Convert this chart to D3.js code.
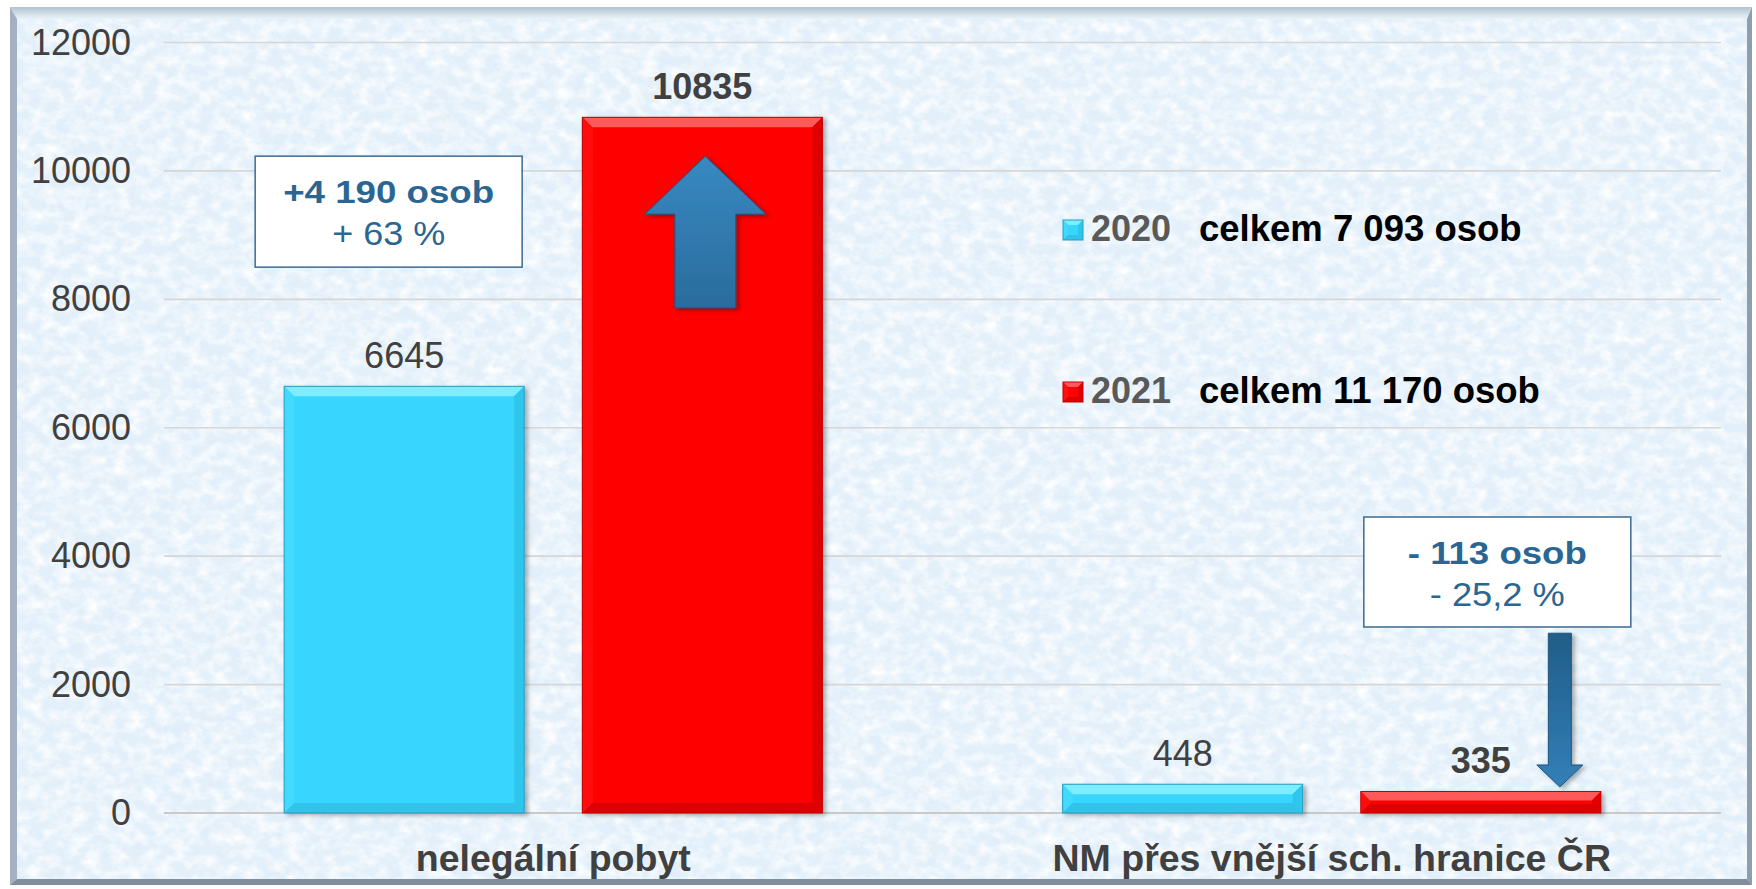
<!DOCTYPE html>
<html>
<head>
<meta charset="utf-8">
<script src="https://cdn.jsdelivr.net/npm/d3@7"></script>
<style>
  html, body { margin: 0; padding: 0; background: #ffffff; }
  svg { display: block; font-family: "Liberation Sans", Arial, sans-serif; }
</style>
</head>
<body>
<svg id="chart"></svg>
<script>
const categories = ['nelegální pobyt', 'NM přes vnější sch. hranice ČR'];
const years = ['2020', '2021'];
const values2020 = [6645, 448];
const values2021 = [10835, 335];
const yTicks = [0, 2000, 4000, 6000, 8000, 10000, 12000];
const legendTotals = ['celkem 7 093 osob', 'celkem 11 170 osob'];
const changeMain = ['+4 190 osob', '- 113 osob'];
const changePct = ['+ 63 %', '- 25,2 %'];
// arrow start / end, in chart units
const arrowFrom = [7865, 2800];
const arrowTo = [10230, 405];

const width = 1756, height = 889;
const margin = {top: 42.5, right: 35, bottom: 76, left: 164};
const y0 = height - margin.bottom;
const FONT = '"Liberation Sans", Arial, sans-serif';

const palette = {
  '2020': {face: '#38d6fe', top: '#7beeff', left: '#42daff', right: '#2fc6ec', bottom: '#30c2ea', edge: '#2a9cc0'},
  '2021': {face: '#fe0303', top: '#ff5a5a', left: '#ff1010', right: '#e00000', bottom: '#dc0000', edge: '#c00000'}
};

const svg = d3.select('#chart').attr('width', width).attr('height', height);
const defs = svg.append('defs');

// paper texture for the background
const tex = defs.append('filter').attr('id', 'tex')
  .attr('x', 0).attr('y', 0).attr('width', '100%').attr('height', '100%');
tex.append('feTurbulence').attr('type', 'fractalNoise').attr('baseFrequency', '0.07 0.09')
  .attr('numOctaves', 4).attr('seed', 7).attr('result', 'n');
tex.append('feColorMatrix').attr('in', 'n').attr('type', 'matrix')
  .attr('values', '0 0 0 0 1  0 0 0 0 1  0 0 0 0 1  2.0 0 0 0 -0.75');

const tex2 = defs.append('filter').attr('id', 'tex2')
  .attr('x', 0).attr('y', 0).attr('width', '100%').attr('height', '100%');
tex2.append('feTurbulence').attr('type', 'fractalNoise').attr('baseFrequency', '0.12')
  .attr('numOctaves', 3).attr('seed', 21).attr('result', 'n');
tex2.append('feColorMatrix').attr('in', 'n').attr('type', 'matrix')
  .attr('values', '0 0 0 0 0.74  0 0 0 0 0.83  0 0 0 0 0.95  0 2.0 0 0 -0.9');

const shadow = defs.append('filter').attr('id', 'shadow')
  .attr('x', '-10%').attr('y', '-10%').attr('width', '130%').attr('height', '130%');
shadow.append('feDropShadow').attr('dx', 3).attr('dy', 2).attr('stdDeviation', 2)
  .attr('flood-color', '#000').attr('flood-opacity', 0.3);

const upGrad = defs.append('linearGradient').attr('id', 'arrowUp')
  .attr('x1', 0).attr('y1', 0).attr('x2', 0).attr('y2', 1);
upGrad.append('stop').attr('offset', '0%').attr('stop-color', '#3889c2');
upGrad.append('stop').attr('offset', '100%').attr('stop-color', '#2a6c9c');
const downGrad = defs.append('linearGradient').attr('id', 'arrowDown')
  .attr('x1', 0).attr('y1', 0).attr('x2', 0).attr('y2', 1);
downGrad.append('stop').attr('offset', '0%').attr('stop-color', '#215d88');
downGrad.append('stop').attr('offset', '100%').attr('stop-color', '#327fb8');

const topBevel = defs.append('linearGradient').attr('id', 'frameTop')
  .attr('x1', 0).attr('y1', 0).attr('x2', 0).attr('y2', 1);
topBevel.append('stop').attr('offset', '0%').attr('stop-color', '#b4c3cf');
topBevel.append('stop').attr('offset', '100%').attr('stop-color', '#eaf3f9');

// frame + background
const fx0 = 10, fy0 = 7, fx1 = 1752, fy1 = 885;
const bl = 7, bt = 12, br = 5, bb = 6;
svg.append('rect').attr('x', fx0).attr('y', fy0).attr('width', fx1 - fx0).attr('height', fy1 - fy0)
  .attr('fill', '#e3f0fa');
svg.append('rect').attr('x', fx0).attr('y', fy0).attr('width', fx1 - fx0).attr('height', fy1 - fy0)
  .attr('filter', 'url(#tex2)').attr('opacity', 0.7);
svg.append('rect').attr('x', fx0).attr('y', fy0).attr('width', fx1 - fx0).attr('height', fy1 - fy0)
  .attr('filter', 'url(#tex)');

const poly = pts => pts.map(p => p.join(',')).join(' ');
svg.append('polygon').attr('fill', 'url(#frameTop)')
  .attr('points', poly([[fx0, fy0], [fx1, fy0], [fx1 - br, fy0 + bt], [fx0 + bl, fy0 + bt]]));
svg.append('polygon').attr('fill', '#a3b2c0')
  .attr('points', poly([[fx0, fy0], [fx0 + bl, fy0 + bt], [fx0 + bl, fy1 - bb], [fx0, fy1]]));
svg.append('polygon').attr('fill', '#909dab')
  .attr('points', poly([[fx1, fy0], [fx1, fy1], [fx1 - br, fy1 - bb], [fx1 - br, fy0 + bt]]));
svg.append('polygon').attr('fill', '#808d9a')
  .attr('points', poly([[fx0, fy1], [fx0 + bl, fy1 - bb], [fx1 - br, fy1 - bb], [fx1, fy1]]));

// scales
const y = d3.scaleLinear().domain([0, 12000]).range([y0, margin.top]);
const x = d3.scaleBand().domain(categories).range([margin.left, width - margin.right]).padding(0);
const xs = d3.scaleBand().domain(years).range([0, x.bandwidth()])
  .paddingInner(0.195).paddingOuter(0.403);

// gridlines
svg.append('g').selectAll('line').data(yTicks).join('line')
  .attr('x1', margin.left).attr('x2', width - margin.right)
  .attr('y1', d => y(d)).attr('y2', d => y(d))
  .attr('stroke', d => d === 0 ? '#c9c9c9' : '#d6d6d6')
  .attr('stroke-width', d => d === 0 ? 2 : 1.6);

// y axis
const yAxis = svg.append('g').attr('transform', `translate(${margin.left},0)`)
  .call(d3.axisLeft(y).tickValues(yTicks).tickSize(0).tickPadding(33).tickFormat(d3.format('d')));
yAxis.select('.domain').remove();
yAxis.attr('font-family', FONT);
yAxis.selectAll('text').attr('font-size', 36).attr('fill', '#404040');

// x axis
const xAxis = svg.append('g').attr('transform', `translate(0,${y0})`)
  .call(d3.axisBottom(x).tickSize(0).tickPadding(31));
xAxis.select('.domain').remove();
xAxis.attr('font-family', FONT);
xAxis.selectAll('text').attr('font-size', 37.5).attr('font-weight', 'bold').attr('fill', '#404040');

function bevelBox(g, bx, by, w, h, c, b) {
  b = Math.min(b, h / 2.4);
  g.append('rect').attr('x', bx).attr('y', by).attr('width', w).attr('height', h).attr('fill', c.face);
  g.append('polygon').attr('fill', c.top)
    .attr('points', poly([[bx, by], [bx + w, by], [bx + w - b, by + b], [bx + b, by + b]]));
  g.append('polygon').attr('fill', c.left)
    .attr('points', poly([[bx, by], [bx + b, by + b], [bx + b, by + h - b], [bx, by + h]]));
  g.append('polygon').attr('fill', c.right)
    .attr('points', poly([[bx + w, by], [bx + w, by + h], [bx + w - b, by + h - b], [bx + w - b, by + b]]));
  g.append('polygon').attr('fill', c.bottom)
    .attr('points', poly([[bx, by + h], [bx + b, by + h - b], [bx + w - b, by + h - b], [bx + w, by + h]]));
  g.append('rect').attr('x', bx).attr('y', by).attr('width', w).attr('height', h)
    .attr('fill', 'none').attr('stroke', c.edge).attr('stroke-width', 1);
}

const series = [
  {year: '2020', values: values2020, weight: 'normal'},
  {year: '2021', values: values2021, weight: 'bold'}
];

const bars = svg.append('g').attr('filter', 'url(#shadow)');
const labels = svg.append('g');
series.forEach(s => {
  s.values.forEach((v, i) => {
    const bx = x(categories[i]) + xs(s.year);
    const w = xs.bandwidth();
    bevelBox(bars, bx, y(v), w, y0 - y(v), palette[s.year], 10);
    labels.append('text')
      .attr('x', bx + w / 2).attr('y', y(v) - 18)
      .attr('text-anchor', 'middle').attr('font-size', 36)
      .attr('font-weight', s.weight).attr('fill', '#404040')
      .text(v);
  });
});

// arrows
function arrow(cx, fromV, toV, shaftW, headW, headL, fill) {
  const a = y(fromV), t = y(toV);
  const dir = t < a ? 1 : -1; // 1 = pointing up
  const hb = t + dir * headL;
  const pts = [
    [cx, t], [cx + headW / 2, hb], [cx + shaftW / 2, hb], [cx + shaftW / 2, a],
    [cx - shaftW / 2, a], [cx - shaftW / 2, hb], [cx - headW / 2, hb]
  ];
  svg.append('polygon').attr('points', poly(pts)).attr('fill', fill)
    .attr('stroke', '#1d5580').attr('stroke-width', 1).attr('filter', 'url(#shadow)');
}
const redW = xs.bandwidth();
arrow(x(categories[0]) + xs('2021') + redW / 2 + 3, arrowFrom[0], arrowTo[0], 61, 121, 58, 'url(#arrowUp)');
arrow(x(categories[1]) + xs('2021') + redW - 41, arrowFrom[1], arrowTo[1], 23, 46, 22, 'url(#arrowDown)');

// change boxes
const boxes = [
  {x: x(categories[0]) + xs('2020') - 29, top: 10230, w: 267, h: 111},
  {x: x(categories[1]) + xs('2021') + 3, top: 4610, w: 267, h: 110}
];
boxes.forEach((b, i) => {
  const by = y(b.top);
  const g = svg.append('g');
  g.append('rect').attr('x', b.x).attr('y', by).attr('width', b.w).attr('height', b.h)
    .attr('fill', '#ffffff').attr('stroke', '#3c6a90').attr('stroke-width', 1.5);
  g.append('text').attr('x', b.x + b.w / 2).attr('y', by + 47)
    .attr('text-anchor', 'middle').attr('font-size', 32).attr('font-weight', 'bold')
    .attr('fill', '#2b6592')
    .attr('textLength', i === 0 ? 211 : 179).attr('lengthAdjust', 'spacingAndGlyphs')
    .text(changeMain[i]);
  g.append('text').attr('x', b.x + b.w / 2).attr('y', by + 89)
    .attr('text-anchor', 'middle').attr('font-size', 33)
    .attr('fill', '#2b6592')
    .attr('textLength', i === 0 ? 113 : 135).attr('lengthAdjust', 'spacingAndGlyphs')
    .text(changePct[i]);
});

// legend
const legend = svg.append('g').attr('transform', 'translate(1063,0)');
const legendRows = [241, 403];
years.forEach((yr, i) => {
  const row = legend.append('g').attr('transform', `translate(0,${legendRows[i]})`);
  bevelBox(row, 0, -21, 20, 20, palette[yr], 5);
  row.append('text').attr('x', 28).attr('y', 0)
    .attr('font-size', 36).attr('font-weight', 'bold').attr('fill', '#595959').text(yr);
  row.append('text').attr('x', 136).attr('y', 0)
    .attr('font-size', 36.5).attr('font-weight', 'bold').attr('fill', '#000000').text(legendTotals[i]);
});
</script>
</body>
</html>
